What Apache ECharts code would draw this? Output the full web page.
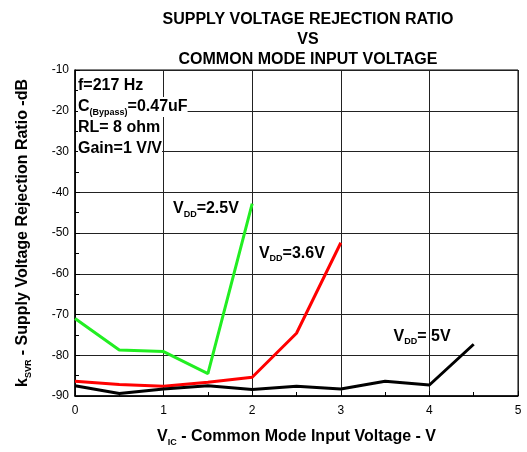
<!DOCTYPE html>
<html>
<head>
<meta charset="utf-8">
<script src="https://cdn.jsdelivr.net/npm/echarts@6/dist/echarts.min.js"></script>
<style>
  html, body { margin: 0; padding: 0; background: #fff; }
  #main { width: 527px; height: 452px; }
</style>
</head>
<body>
<div id="main"></div>
<script>
// x values (V_IC, volts)
var vic = [0, 0.5, 1, 1.5, 2, 2.5, 3, 3.5, 4, 4.5];
// kSVR in dB
var vdd25 = [-71, -78.7, -79.1, -84.5, -42.8];
var vdd36 = [-86.4, -87.2, -87.6, -86.6, -85.4, -74.6, -52.4];
var vdd50 = [-87.5, -89.4, -88.3, -87.5, -88.4, -87.6, -88.3, -86.4, -87.3, -77.3];
var notes = ['{b|f=217 Hz}', '{b|C}{sub|(Bypass)}{b|=0.47uF}', '{b|RL= 8 ohm}', '{b|Gain=1 V/V}'];

function pairs(ys) {
  return ys.map(function (y, i) { return [vic[i], y]; });
}

var font = 'Liberation Sans, Arial, sans-serif';
var rich = {
  b: { fontFamily: font, fontWeight: 'bold', fontSize: 16, color: '#000', lineHeight: 20 },
  sub: { fontFamily: font, fontWeight: 'bold', fontSize: 9, color: '#000', lineHeight: 20, verticalAlign: 'bottom', padding: [9, 0, 0, 0] }
};

function tag(text, x, y) {
  return {
    coord: [x, y],
    symbol: 'circle', symbolSize: 1,
    itemStyle: { color: 'rgba(0,0,0,0)' },
    label: {
      show: true, position: 'right', distance: 0,
      formatter: text, rich: rich,
      fontFamily: font, fontWeight: 'bold', fontSize: 16, color: '#000'
    }
  };
}

function line(name, ys, color, tagText, tx, ty) {
  return {
    name: name, type: 'line', data: pairs(ys),
    symbol: 'none', lineStyle: { color: color, width: 3 },
    itemStyle: { color: color },
    markPoint: { data: [tag(tagText, tx, ty)], animation: false },
    animation: false
  };
}

var chart = echarts.init(document.getElementById('main'));
var option = {
  backgroundColor: '#fff',
  title: {
    text: 'SUPPLY VOLTAGE REJECTION RATIO\nVS\nCOMMON MODE INPUT VOLTAGE',
    left: 303, top: 5, textAlign: 'center',
    textStyle: { fontFamily: font, fontWeight: 'bold', fontSize: 16, lineHeight: 20, color: '#000' }
  },
  grid: { left: 75, right: 9, top: 70, bottom: 55, show: true, borderColor: '#000', borderWidth: 1 },
  xAxis: {
    type: 'value', min: 0, max: 5, interval: 1,
    name: '{b|V}{sub|IC}{b| - Common Mode Input Voltage - V}',
    nameLocation: 'middle', nameGap: 31,
    nameTextStyle: { rich: rich },
    axisLine: { lineStyle: { color: '#000', width: 1.5 } },
    axisTick: { inside: true, length: 5, lineStyle: { color: '#000' } },
    minorTick: { show: true, splitNumber: 2, length: 4, lineStyle: { color: '#000' } },
    axisLabel: { fontFamily: font, fontSize: 12, color: '#000', margin: 9 },
    splitLine: { show: true, lineStyle: { color: '#222', width: 1 } }
  },
  yAxis: {
    type: 'value', min: -90, max: -10, interval: 10,
    name: '{b|k}{sub|SVR}{b| - Supply Voltage Rejection Ratio -dB}',
    nameLocation: 'middle', nameGap: 42, nameRotate: 90,
    nameTextStyle: { rich: rich },
    axisLine: { show: true, lineStyle: { color: '#000', width: 1.5 } },
    axisTick: { inside: true, length: 5, lineStyle: { color: '#000' } },
    minorTick: { show: true, splitNumber: 2, length: 4, lineStyle: { color: '#000' } },
    axisLabel: { fontFamily: font, fontSize: 12, color: '#000', margin: 6 },
    splitLine: { show: true, lineStyle: { color: '#222', width: 1 } }
  },
  graphic: notes.map(function (t, i) {
    return {
      type: 'text', left: 78, top: 76 + i * 21, z: 100,
      style: { text: t, rich: rich, backgroundColor: '#fff' }
    };
  }),
  series: [
    line('VDD=2.5V', vdd25, '#22ee22', '{b|V}{sub|DD}{b|=2.5V}', 1.1, -44),
    line('VDD=3.6V', vdd36, '#ff0000', '{b|V}{sub|DD}{b|=3.6V}', 2.07, -55),
    line('VDD=5V', vdd50, '#000000', '{b|V}{sub|DD}{b|= 5V}', 3.59, -75.3)
  ]
};
chart.setOption(option);
window.addEventListener('resize', function () { chart.resize(); });
</script>
</body>
</html>
